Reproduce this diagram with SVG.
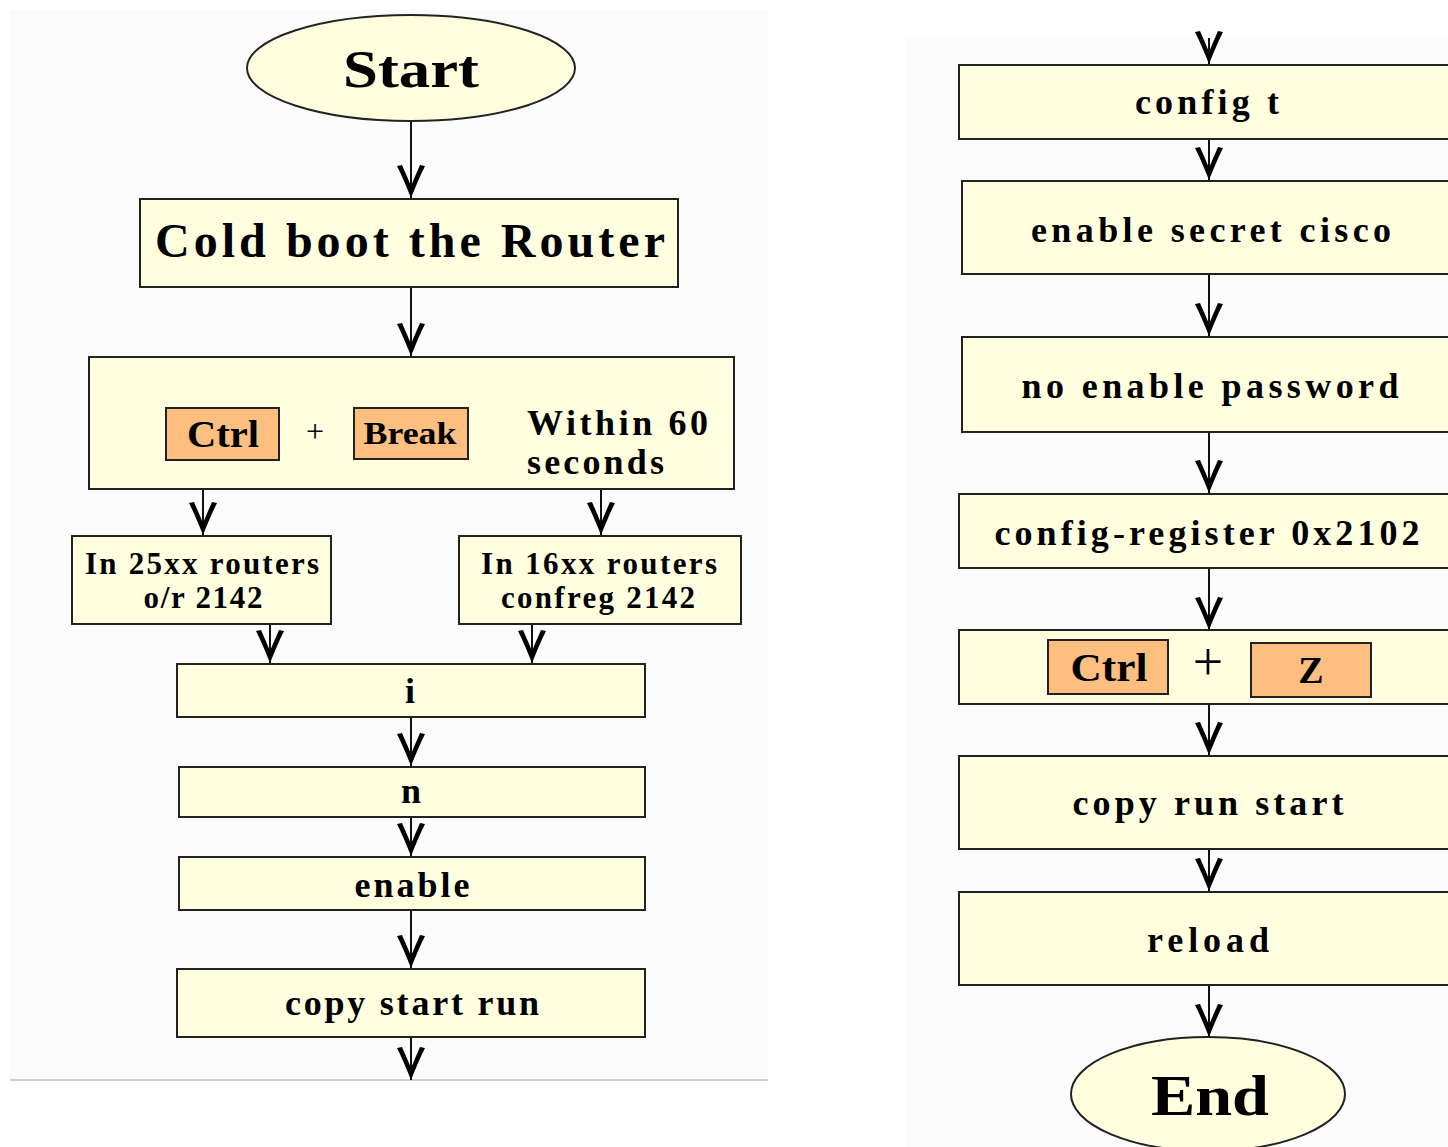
<svg xmlns="http://www.w3.org/2000/svg" width="1448" height="1147" viewBox="0 0 1448 1147">
  <style>
    .box { fill: #ffffe0; stroke: #222; stroke-width: 2; }
    .key { fill: #fcbf80; stroke: #222; stroke-width: 2; }
    .term { fill: #ffffe0; stroke: #222; stroke-width: 2; }
    .t { font-family: "Liberation Serif", "Times New Roman", serif; font-weight: bold; fill: #000; text-anchor: middle; }
    .tl { font-family: "Liberation Serif", "Times New Roman", serif; font-weight: bold; fill: #000; }
    .plain { font-family: "Liberation Serif", "Times New Roman", serif; font-weight: normal; fill: #000; text-anchor: middle; }
    .wire { stroke: #111; stroke-width: 2; fill: none; marker-end: url(#barb); }
  </style>
  <defs>
    <!-- barbed arrowhead: two thick curved prongs meeting in a solid tip -->
    <marker id="barb" viewBox="-2 -16 36 32" refX="32" refY="0" markerWidth="36" markerHeight="32" markerUnits="userSpaceOnUse" orient="auto">
      <path d="M32,0 C22,-4 10,-9 0,-14 L-1,-9 C8,-5 15,-2 20,0 C15,2 8,5 -1,9 L0,14 C10,9 22,4 32,0 Z" fill="#000"/>
    </marker>
  </defs>

  <!-- page background -->
  <rect x="0" y="0" width="1448" height="1147" fill="#ffffff"/>
  <rect x="10" y="10" width="758" height="1070" fill="#fbfbfb"/>
  <rect x="905" y="38" width="543" height="1109" fill="#fbfbfb"/>
  <line x1="10" y1="1080" x2="768" y2="1080" stroke="#cfcfcf" stroke-width="2"/>

  <!-- connectors -->
  <g id="connectors">
    <line class="wire" x1="411" y1="122" x2="411" y2="198"/>
    <line class="wire" x1="411" y1="287" x2="411" y2="356"/>
    <line class="wire" x1="203" y1="489" x2="203" y2="535"/>
    <line class="wire" x1="601" y1="489" x2="601" y2="535"/>
    <line class="wire" x1="270" y1="624" x2="270" y2="663"/>
    <line class="wire" x1="532" y1="624" x2="532" y2="663"/>
    <line class="wire" x1="411" y1="717" x2="411" y2="766"/>
    <line class="wire" x1="411" y1="817" x2="411" y2="856"/>
    <line class="wire" x1="411" y1="910" x2="411" y2="968"/>
    <line class="wire" x1="411" y1="1037" x2="411" y2="1080"/>

    <line class="wire" x1="1209" y1="38" x2="1209" y2="64"/>
    <line class="wire" x1="1209" y1="139" x2="1209" y2="180"/>
    <line class="wire" x1="1209" y1="274" x2="1209" y2="336"/>
    <line class="wire" x1="1209" y1="432" x2="1209" y2="493"/>
    <line class="wire" x1="1209" y1="568" x2="1209" y2="630"/>
    <line class="wire" x1="1209" y1="694" x2="1209" y2="755"/>
    <line class="wire" x1="1209" y1="849" x2="1209" y2="891"/>
    <line class="wire" x1="1209" y1="985" x2="1209" y2="1037"/>
  </g>

  <!-- left column -->
  <g id="start">
    <ellipse class="term" cx="411" cy="68" rx="164" ry="53"/>
    <text class="t" x="411" y="87" font-size="52" textLength="136" lengthAdjust="spacingAndGlyphs">Start</text>
  </g>

  <g id="cold-boot">
    <rect class="box" x="140" y="199" width="538" height="88"/>
    <text class="t" x="410" y="257" font-size="48" textLength="510" lengthAdjust="spacing">Cold boot the Router</text>
  </g>

  <g id="ctrl-break">
    <rect class="box" x="89" y="357" width="645" height="132"/>
    <rect class="key" x="166" y="408" width="113" height="52"/>
    <text class="t" x="223" y="447" font-size="38" textLength="72" lengthAdjust="spacingAndGlyphs">Ctrl</text>
    <text class="plain" x="315" y="442" font-size="32">+</text>
    <rect class="key" x="354" y="408" width="114" height="51"/>
    <text class="t" x="410" y="444" font-size="32" textLength="93" lengthAdjust="spacingAndGlyphs">Break</text>
    <text class="tl" x="527" y="435" font-size="36" textLength="181" lengthAdjust="spacing">Within 60</text>
    <text class="tl" x="527" y="474" font-size="36" textLength="137" lengthAdjust="spacing">seconds</text>
  </g>

  <g id="r25xx">
    <rect class="box" x="72" y="536" width="259" height="88"/>
    <text class="t" x="202" y="574" font-size="31" textLength="234" lengthAdjust="spacing">In 25xx routers</text>
    <text class="t" x="203" y="608" font-size="31" textLength="119" lengthAdjust="spacing">o/r 2142</text>
  </g>

  <g id="r16xx">
    <rect class="box" x="459" y="536" width="282" height="88"/>
    <text class="t" x="599" y="574" font-size="31" textLength="236" lengthAdjust="spacing">In 16xx routers</text>
    <text class="t" x="598" y="608" font-size="31" textLength="194" lengthAdjust="spacing">confreg 2142</text>
  </g>

  <g id="step-i">
    <rect class="box" x="177" y="664" width="468" height="53"/>
    <text class="t" x="410" y="703" font-size="36">i</text>
  </g>

  <g id="step-n">
    <rect class="box" x="179" y="767" width="466" height="50"/>
    <text class="t" x="411" y="803" font-size="36">n</text>
  </g>

  <g id="step-enable">
    <rect class="box" x="179" y="857" width="466" height="53"/>
    <text class="t" x="412" y="897" font-size="36" textLength="115" lengthAdjust="spacing">enable</text>
  </g>

  <g id="copy-start-run">
    <rect class="box" x="177" y="969" width="468" height="68"/>
    <text class="t" x="412" y="1015" font-size="36" textLength="254" lengthAdjust="spacing">copy start run</text>
  </g>

  <!-- right column -->
  <g id="config-t">
    <rect class="box" x="959" y="65" width="500" height="74"/>
    <text class="t" x="1207" y="114" font-size="36" textLength="144" lengthAdjust="spacing">config t</text>
  </g>

  <g id="enable-secret">
    <rect class="box" x="962" y="181" width="497" height="93"/>
    <text class="t" x="1211" y="242" font-size="36" textLength="360" lengthAdjust="spacing">enable secret cisco</text>
  </g>

  <g id="no-enable-password">
    <rect class="box" x="962" y="337" width="497" height="95"/>
    <text class="t" x="1210" y="398" font-size="36" textLength="377" lengthAdjust="spacing">no enable password</text>
  </g>

  <g id="config-register">
    <rect class="box" x="959" y="494" width="500" height="74"/>
    <text class="t" x="1207" y="545" font-size="36" textLength="425" lengthAdjust="spacing">config-register 0x2102</text>
  </g>

  <g id="ctrl-z">
    <rect class="box" x="959" y="630" width="500" height="74"/>
    <rect class="key" x="1048" y="640" width="120" height="54"/>
    <text class="t" x="1109" y="681" font-size="40" textLength="77" lengthAdjust="spacingAndGlyphs">Ctrl</text>
    <text class="plain" x="1208" y="680" font-size="54">+</text>
    <rect class="key" x="1251" y="643" width="120" height="54"/>
    <text class="t" x="1311" y="683" font-size="38">Z</text>
  </g>

  <g id="copy-run-start">
    <rect class="box" x="959" y="756" width="500" height="93"/>
    <text class="t" x="1208" y="815" font-size="36" textLength="271" lengthAdjust="spacing">copy run start</text>
  </g>

  <g id="reload">
    <rect class="box" x="959" y="892" width="500" height="93"/>
    <text class="t" x="1208" y="952" font-size="36" textLength="122" lengthAdjust="spacing">reload</text>
  </g>

  <g id="end">
    <ellipse class="term" cx="1208" cy="1094" rx="137" ry="57"/>
    <text class="t" x="1210" y="1115" font-size="56" textLength="118" lengthAdjust="spacingAndGlyphs">End</text>
  </g>
</svg>
